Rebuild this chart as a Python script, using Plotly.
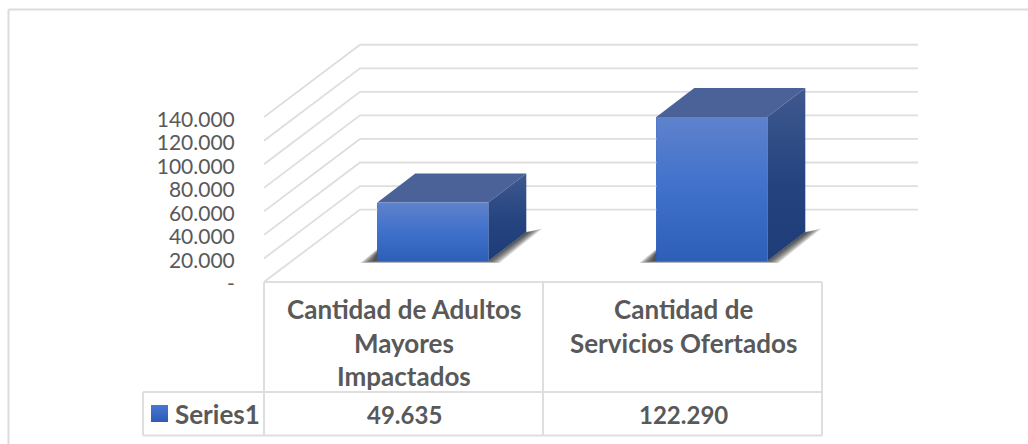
import plotly.graph_objects as go

# ---- data ----
categories = ["Cantidad de Adultos<br>Mayores<br>Impactados", "Cantidad de<br>Servicios Ofertados"]
series_name = "Series1"
values = [49635, 122290]
value_labels = ["49.635", "122.290"]
tick_values = [0, 20000, 40000, 60000, 80000, 100000, 120000, 140000]
tick_labels = ["-", "20.000", "40.000", "60.000", "80.000", "100.000", "120.000", "140.000"]

# ---- layout (pixels of the 1028x444 page) ----
W, H = 1028, 444
AX_L, AX_R = 264, 920          # plot area horizontally
AX_T, AX_B = 30, 282           # plot area vertically
COL = 279.0                    # px per category
PX_PER_20K = 23.55             # px per 20 000


def dv(px):                    # vertical px length -> value units
    return px / PX_PER_20K * 20000


def pxx(px):                   # page px -> paper fraction
    return px / W


def pxy(py):
    return (H - py) / H


WALL_DX = 96 / COL
WALL_DV = dv(72.4)
DEPTH_DX = 38 / COL
DEPTH_DV = dv(29)
BAR_W = 111 / COL
BAR_OFF = 0.105                # front face sits right of category centre
FLOOR = dv(21)
GRID = "#dedede"
TXT = "#595959"
FONT = "Lato"

fig = go.Figure()

# walls: oblique side gridline + back gridline for each tick
for t in tick_values:
    fig.add_trace(go.Scatter(
        x=[0, WALL_DX, (918 - AX_L) / COL], y=[t, t + WALL_DV, t + WALL_DV],
        mode="lines", line=dict(color=GRID, width=1.8),
        hoverinfo="skip", showlegend=False, cliponaxis=False))

centres = [i + 0.5 + BAR_OFF for i in range(len(values))]

# plain bars carrying the values; gradient faces are laid over them
fig.add_trace(go.Bar(x=centres, y=values, base=[FLOOR] * len(values), width=BAR_W,
                     marker=dict(color="#3f6fc8", line=dict(width=0)),
                     name=series_name, showlegend=False))


def poly(xs, ys, xaxis="x", yaxis="y", **kw):
    fig.add_trace(go.Scatter(x=xs, y=ys, xaxis=xaxis, yaxis=yaxis, mode="lines", fill="toself",
                             line=dict(width=0), hoverinfo="skip",
                             showlegend=False, cliponaxis=False, **kw))


for c, v in zip(centres, values):
    l, r = c - BAR_W / 2, c + BAR_W / 2
    b, t = FLOOR, FLOOR + v
    # ground shadow, layered from its soft rim to the dark core beside the bar
    N = 7
    for k in range(N):
        s = k / (N - 1)        # 0 = outer rim, 1 = core
        pts = [(-17 + 13 * s, 2.0 - 2.0 * s),
               (0, 12 - 4 * s),
               (0, 0), (111, 0),
               (149, 29), (165 - 16 * s, 32.5 - 5 * s),
               (122 - 11 * s, 2.0 - 2.0 * s)]
        poly([l + p[0] / COL for p in pts],
             [b + dv(p[1] if i in (1, 2, 3, 4, 5) else -p[1]) for i, p in enumerate(pts)],
             fillcolor="rgba(20,20,20,0.17)")
    # top face
    poly([l, l + DEPTH_DX, r + DEPTH_DX, r, l],
         [t, t + DEPTH_DV, t + DEPTH_DV, t, t], fillcolor="#4a6297")
    # side face
    poly([r, r + DEPTH_DX, r + DEPTH_DX, r, r],
         [b, b + DEPTH_DV, t + DEPTH_DV, t, b],
         fillcolor="#2a4a86",
         fillgradient=dict(type="vertical",
                           colorscale=[[0, "#1d3c78"], [0.45, "#24437f"], [1, "#40598f"]]))
    # front face
    poly([l, r, r, l, l], [b, b, t, t, b],
         fillcolor="#3f6fc8",
         fillgradient=dict(type="vertical",
                           colorscale=[[0, "#2d5fb8"], [0.5, "#3f71cb"], [1, "#5f82cc"]]))

# legend key on a full-page axis pair, in page pixels
poly([151, 168, 168, 151, 151], [H - 422, H - 422, H - 405, H - 405, H - 422],
     xaxis="x2", yaxis="y2", fillcolor="#3f6fc8",
     fillgradient=dict(type="vertical", colorscale=[[0, "#2d5cb5"], [1, "#4a78d0"]]))

# ---- table and frame ----
shapes = []


def ln(x0, y0, x1, y1, color=GRID, width=2):
    shapes.append(dict(type="line", xref="paper", yref="paper",
                       x0=pxx(x0), x1=pxx(x1), y0=pxy(y0), y1=pxy(y1),
                       line=dict(color=color, width=width), layer="below"))


# frame: only top and left edges show on the page
ln(8.5, 9.5, W, 9.5, color="#dcdcdc")
ln(8.5, 9.5, 8.5, H, color="#dcdcdc")
# table
ln(264, 282, 822, 282)
ln(143, 392, 822, 392)
ln(143, 435.5, 822, 435.5)
ln(143, 392, 143, 435.5)
ln(264, 282, 264, 435.5)
ln(543, 282, 543, 435.5)
ln(822, 282, 822, 435.5)

annotations = []


def txt(px, py, text, size, bold=True, anchor="center"):
    annotations.append(dict(xref="paper", yref="paper", x=pxx(px), y=pxy(py), text=text,
                            showarrow=False, xanchor=anchor, yanchor="middle", align="center",
                            font=dict(family=FONT, size=size, color=TXT,
                                      weight=700 if bold else 400)))


col_px = [404, 683]
for cx, cat, lab in zip(col_px, categories, value_labels):
    parts = cat.split("<br>")
    for i, p in enumerate(parts):
        txt(cx, 309 + i * 33.5, p, 26)
    txt(cx, 414, lab, 24)
txt(173, 414, series_name, 26, anchor="left")

fig.update_layout(
    width=W, height=H, autosize=False,
    paper_bgcolor="white", plot_bgcolor="rgba(0,0,0,0)",
    margin=dict(l=0, r=0, t=0, b=0, pad=0, autoexpand=False),
    showlegend=False, bargap=0,
    shapes=shapes, annotations=annotations,
    xaxis=dict(domain=[AX_L / W, AX_R / W], range=[0, (AX_R - AX_L) / COL],
               visible=False, fixedrange=True, anchor="y"),
    yaxis=dict(domain=[(H - AX_B) / H, (H - AX_T) / H], range=[0, dv(AX_B - AX_T)],
               tickmode="array", tickvals=tick_values, ticktext=tick_labels,
               showgrid=False, zeroline=False, showline=False, anchor="x",
               ticks="outside", ticklen=24, tickcolor="rgba(0,0,0,0)", ticklabelshift=2,
               tickfont=dict(family=FONT, size=21, color=TXT), fixedrange=True),
    xaxis2=dict(domain=[0, 1], range=[0, W], visible=False, fixedrange=True, anchor="y2"),
    yaxis2=dict(domain=[0, 1], range=[0, H], visible=False, fixedrange=True, anchor="x2"),
)

fig.write_html("out.html", config=dict(displayModeBar=False),
               post_script="document.body.style.margin='0';document.documentElement.style.overflow='hidden';")
